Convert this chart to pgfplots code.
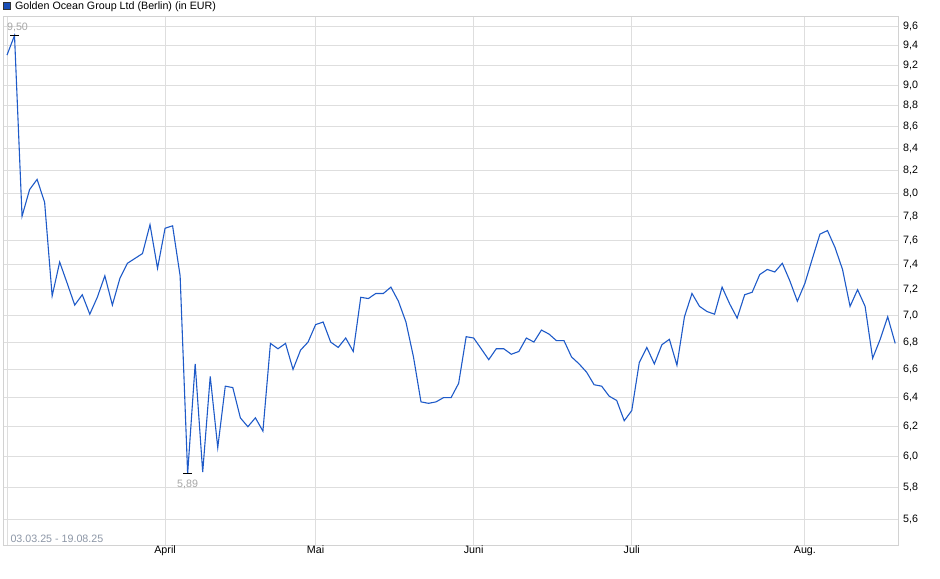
\documentclass[border=0pt]{standalone}
\usepackage{fontspec}
\setmainfont{Liberation Sans}
\usepackage{pgfplots}
\usepackage{pgfplotstable}
\pgfplotsset{compat=1.18}

\definecolor{linecol}{HTML}{1E5AC8}
\definecolor{legfill}{HTML}{1A4FB8}
\definecolor{gridcol}{HTML}{DEDEDE}
\definecolor{framecol}{HTML}{D2D2D2}
\definecolor{notecol}{HTML}{A6A6A6}
\definecolor{datecol}{HTML}{8C96A6}

% trading day index (0 = 03.03.25), closing price in EUR
\pgfplotstableread{
i v
0 9.30
1 9.50
2 7.80
3 8.03
4 8.12
5 7.92
6 7.15
7 7.42
8 7.25
9 7.08
10 7.16
11 7.01
12 7.14
13 7.31
14 7.08
15 7.29
16 7.41
17 7.45
18 7.49
19 7.73
20 7.37
21 7.70
22 7.72
23 7.31
24 5.89
25 6.64
26 5.90
27 6.55
28 6.06
29 6.48
30 6.47
31 6.26
32 6.20
33 6.26
34 6.17
35 6.79
36 6.75
37 6.79
38 6.60
39 6.74
40 6.80
41 6.93
42 6.95
43 6.80
44 6.76
45 6.83
46 6.73
47 7.14
48 7.13
49 7.17
50 7.17
51 7.22
52 7.11
53 6.95
54 6.69
55 6.37
56 6.36
57 6.37
58 6.40
59 6.40
60 6.50
61 6.84
62 6.83
63 6.75
64 6.67
65 6.75
66 6.75
67 6.71
68 6.73
69 6.83
70 6.80
71 6.89
72 6.86
73 6.81
74 6.81
75 6.69
76 6.64
77 6.58
78 6.49
79 6.48
80 6.41
81 6.38
82 6.24
83 6.31
84 6.65
85 6.76
86 6.64
87 6.78
88 6.82
89 6.63
90 6.99
91 7.17
92 7.07
93 7.03
94 7.01
95 7.22
96 7.09
97 6.98
98 7.16
99 7.18
100 7.32
101 7.36
102 7.34
103 7.41
104 7.27
105 7.11
106 7.25
107 7.45
108 7.65
109 7.68
110 7.54
111 7.36
112 7.07
113 7.20
114 7.07
115 6.68
116 6.82
117 6.99
118 6.79
}\kurs

\begin{document}
\begin{tikzpicture}[font=\fontsize{10.7bp}{13bp}\selectfont]
\useasboundingbox (-3bp,-34bp) rectangle (937bp,545bp);
\begin{axis}[
    scale only axis,
    width=895bp, height=529bp,
    at={(0,0)}, anchor=south west,
    xmin=-0.53, xmax=118.37,
    ymode=log, ymin=5.449, ymax=9.705,
    xtick={0,21,41,62,83,106},
    xticklabels={,April,Mai,Juni,Juli,Aug.},
    ytick={5.6,5.8,6.0,6.2,6.4,6.6,6.8,7.0,7.2,7.4,7.6,7.8,8.0,8.2,8.4,8.6,8.8,9.0,9.2,9.4,9.6},
    yticklabels={{5,6},{5,8},{6,0},{6,2},{6,4},{6,6},{6,8},{7,0},{7,2},{7,4},{7,6},{7,8},{8,0},{8,2},{8,4},{8,6},{8,8},{9,0},{9,2},{9,4},{9,6}},
    yticklabel pos=right,
    minor tick num=0,
    grid=major,
    major grid style={gridcol, line width=0.9bp},
    axis line style={framecol, line width=0.9bp},
    tick style={draw=none},
    xticklabel style={anchor=north, inner sep=0pt, yshift=-1bp},
    yticklabel style={anchor=west, inner sep=0pt, xshift=5bp},
    legend style={draw=none, fill=none, at={(0,1)}, anchor=south west,
        inner sep=0pt, xshift=0bp, yshift=3bp,
        legend cell align=left},
    legend image code/.code={
        \draw[fill=legfill, draw=black!80, line width=0.6bp] (0bp,-3.5bp) rectangle (7bp,3.5bp);
        \path (9bp,0bp);},
]
\addplot[linecol, line width=1.1bp, sharp plot] table[x=i, y=v] {\kurs};
\addlegendentry{Golden Ocean Group Ltd (Berlin) (in EUR)}

% high and low markers
\addplot[forget plot, only marks, mark=-, mark size=4.5bp, black, mark options={line width=1bp}]
    coordinates {(1,9.50) (24,5.89)};
\node[anchor=base, text=notecol, xshift=3bp, yshift=5bp] at (axis cs:1,9.50) {9,50};
\node[anchor=base, text=notecol, yshift=-14bp] at (axis cs:24,5.89) {5,89};
\node[anchor=base west, text=datecol, xshift=4bp, yshift=2bp] at (rel axis cs:0,0) {03.03.25 - 19.08.25};
\end{axis}
\end{tikzpicture}
\end{document}
